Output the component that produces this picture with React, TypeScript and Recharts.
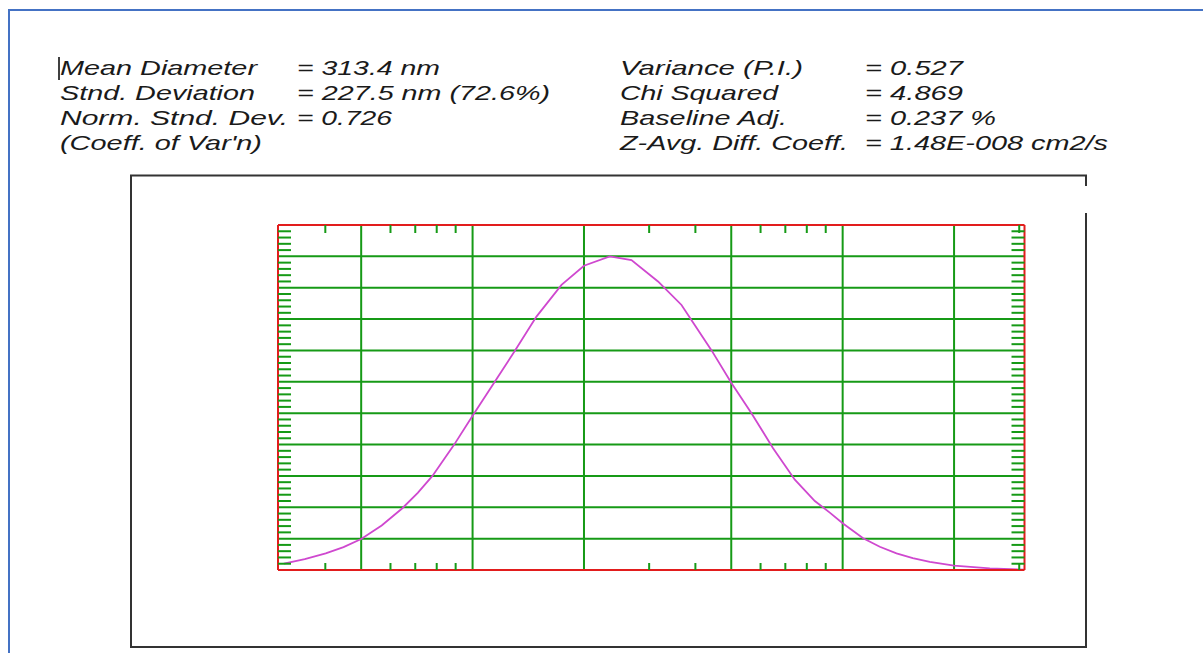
import React from "react";
import { LineChart, Line, XAxis, YAxis, ReferenceLine } from "recharts";

// Particle diameter (nm) and relative intensity
const diameters = [30.9, 35.2, 40.1, 44.8, 50, 56.8, 64.6, 71.1, 77.9, 89.1, 100, 114.8, 130, 148.8, 173.9, 200, 234.8, 268.7, 317, 366.9, 441.9, 500, 567, 648.6, 742.6, 841, 923, 1000, 1136, 1260, 1398, 1547, 1720, 2000, 2499, 3088];
const intensities = [2.0, 3.5, 5.3, 7.3, 9.9, 14.2, 19.7, 24.6, 30, 39.9, 49.2, 60, 69.8, 80.8, 90.9, 97, 100, 98.8, 92, 84.5, 70.1, 59.7, 50, 38.8, 28.8, 22.0, 18.3, 14.9, 10.1, 7.4, 5.3, 3.8, 2.6, 1.4, 0.5, 0.1];

const xMajor = [50, 100, 200, 500, 1000, 2000];
const xMinor = [40, 60, 70, 80, 90, 300, 400, 600, 700, 800, 900, 3000];
const yMajor = [10, 20, 30, 40, 50, 60, 70, 80, 90, 100];
const yMinor = [2, 4, 6, 8, 12, 14, 16, 18, 22, 24, 26, 28, 32, 34, 36, 38, 42, 44, 46, 48, 52, 54, 56, 58, 62, 64, 66, 68, 72, 74, 76, 78, 82, 84, 86, 88, 92, 94, 96, 98, 102, 104, 106, 108];

const leftLabels = ["Mean Diameter", "Stnd. Deviation", "Norm. Stnd. Dev.", "(Coeff. of Var'n)"];
const leftValues = ["= 313.4 nm", "= 227.5 nm (72.6%)", "= 0.726", ""];
const rightLabels = ["Variance (P.I.)", "Chi Squared", "Baseline Adj.", "Z-Avg. Diff. Coeff."];
const rightValues = ["= 0.527", "= 4.869", "= 0.237 %", "= 1.48E-008 cm2/s"];

const leftLabelW = [197, 195, 228, 202];
const leftValueW = [143, 253, 95, 0];
const rightLabelW = [183, 158, 167, 228];
const rightValueW = [98, 98, 131, 243];

const data = diameters.map((d, i) => ({ d, v: intensities[i] }));

const GREEN = "#169a16";
const RED = "#e21d1d";
const MAGENTA = "#cf48cf";

const textStyle: React.CSSProperties = {
  fontFamily: "'Liberation Sans', Arial, sans-serif",
  fontStyle: "italic",
  fontSize: 21,
};

const noLabel = () => "";
const hiddenTick = { fill: "transparent", fontSize: 1 };

export default function App() {
  const rows = [75, 100, 125, 150];
  return (
    <div style={{ position: "fixed", left: 0, top: 0, width: 1203, height: 653, overflow: "hidden", background: "#fff" }}>
      <svg width={1203} height={653} style={{ position: "absolute", left: 0, top: 0 }}>
        <line x1={9} y1={10} x2={9} y2={653} stroke="#4472c4" strokeWidth={2} />
        <line x1={8} y1={10} x2={1203} y2={10} stroke="#4472c4" strokeWidth={2} />
        <line x1={130} y1={175.5} x2={1087} y2={175.5} stroke="#333" strokeWidth={2} />
        <line x1={131} y1={175} x2={131} y2={647.5} stroke="#333" strokeWidth={2} />
        <line x1={130} y1={647} x2={1087} y2={647} stroke="#333" strokeWidth={2} />
        <line x1={1086} y1={175} x2={1086} y2={186} stroke="#333" strokeWidth={2} />
        <line x1={1086} y1={213} x2={1086} y2={648} stroke="#333" strokeWidth={2} />
        <line x1={59} y1={57} x2={59} y2={80} stroke="#000" strokeWidth={1.5} />
        {rows.map((y, i) => (
          <g key={i} style={textStyle} fill="#1a1a1a">
            <text x={60} y={y} textLength={leftLabelW[i]} lengthAdjust="spacingAndGlyphs">{leftLabels[i]}</text>
            {leftValues[i] && (
              <text x={297} y={y} textLength={leftValueW[i]} lengthAdjust="spacingAndGlyphs">{leftValues[i]}</text>
            )}
            <text x={620} y={y} textLength={rightLabelW[i]} lengthAdjust="spacingAndGlyphs">{rightLabels[i]}</text>
            <text x={865} y={y} textLength={rightValueW[i]} lengthAdjust="spacingAndGlyphs">{rightValues[i]}</text>
          </g>
        ))}
      </svg>
      <div style={{ position: "absolute", left: 0, top: 0 }}>
        <LineChart width={1203} height={653} data={data} margin={{ top: 225, bottom: 83, left: 278, right: 178.5 }}>
          {xMajor.map((x) => (
            <ReferenceLine key={"x" + x} x={x} xAxisId="b" yAxisId="l" stroke={GREEN} strokeWidth={2} />
          ))}
          {yMajor.map((y) => (
            <ReferenceLine key={"y" + y} y={y} xAxisId="b" yAxisId="l" stroke={GREEN} strokeWidth={2} />
          ))}
          <XAxis xAxisId="b" dataKey="d" type="number" scale="log" domain={[29.8, 3100]} allowDataOverflow
            orientation="bottom" mirror ticks={xMinor} interval={0} tick={hiddenTick} tickFormatter={noLabel} tickSize={7}
            axisLine={{ stroke: RED, strokeWidth: 2 }} tickLine={{ stroke: GREEN, strokeWidth: 2 }} />
          <XAxis xAxisId="t" dataKey="d" type="number" scale="log" domain={[29.8, 3100]} allowDataOverflow
            orientation="top" mirror ticks={xMinor} interval={0} tick={hiddenTick} tickFormatter={noLabel} tickSize={8}
            axisLine={{ stroke: RED, strokeWidth: 2 }} tickLine={{ stroke: GREEN, strokeWidth: 2 }} />
          <YAxis yAxisId="l" type="number" domain={[0, 110]} allowDataOverflow orientation="left" mirror
            ticks={yMinor} interval={0} tick={hiddenTick} tickFormatter={noLabel} tickSize={13}
            axisLine={{ stroke: RED, strokeWidth: 2 }} tickLine={{ stroke: GREEN, strokeWidth: 2 }} />
          <YAxis yAxisId="r" type="number" domain={[0, 110]} allowDataOverflow orientation="right" mirror
            ticks={yMinor} interval={0} tick={hiddenTick} tickFormatter={noLabel} tickSize={13}
            axisLine={{ stroke: RED, strokeWidth: 2 }} tickLine={{ stroke: GREEN, strokeWidth: 2 }} />
          <Line xAxisId="b" yAxisId="l" type="linear" dataKey="v" stroke={MAGENTA} strokeWidth={1.8} dot={false} isAnimationActive={false} />
        </LineChart>
      </div>
    </div>
  );
}
